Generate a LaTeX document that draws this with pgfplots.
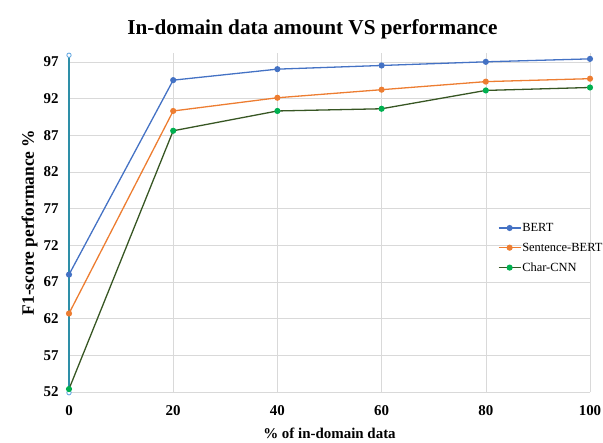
\documentclass[border=0pt]{standalone}
\usepackage{pgfplots}
\pgfplotsset{compat=1.18}
\usepackage{fontspec}
\setmainfont{Liberation Serif}
\definecolor{cbert}{HTML}{4472C4}
\definecolor{csbert}{HTML}{ED7D31}
\definecolor{ccnnline}{HTML}{375623}
\definecolor{ccnnmark}{HTML}{00B050}
\definecolor{cteal}{HTML}{2E8FA8}
\definecolor{cteal2}{HTML}{5BA3E0}
\definecolor{cgrid}{HTML}{D9D9D9}
\begin{document}
\begin{tikzpicture}
\begin{axis}[
  scale only axis,
  width=521bp, height=339bp,
  xmin=0, xmax=100, ymin=52, ymax=98.2,
  clip=false,
  xtick={0,20,40,60,80,100},
  ytick={52,57,62,67,72,77,82,87,92,97},
  grid=major,
  major grid style={cgrid, line width=0.6pt},
  axis line style={draw=none},
  major tick length=0pt,
  /pgf/number format/assume math mode=true,
  tick label style={font=\fontsize{15}{17}\selectfont\bfseries},
  xticklabel style={yshift=-10bp},
  yticklabel style={xshift=-7bp},
  title={\fontsize{21.3}{24}\selectfont\bfseries In-domain data amount VS performance},
  title style={yshift=4bp, xshift=-17bp},
  xlabel={\fontsize{15}{17}\selectfont\bfseries \% of in-domain data},
  xlabel style={yshift=-6bp},
  ylabel={\fontsize{17.5}{19}\selectfont\bfseries F1-score performance \%},
  ylabel style={yshift=-1bp},
  legend style={draw=none, fill=none, at={(0.823,0.425)}, anchor=west,
    inner sep=0pt, nodes={inner sep=1bp},
    font=\fontsize{12.5}{14}\selectfont, row sep=8bp},
  legend cell align=left,
  legend image code/.code={
    \draw[#1, mark repeat=2, mark phase=2] plot coordinates {(0bp,0bp) (11bp,0bp) (22bp,0bp)};},
]
\addplot[cteal, line width=1.1pt, mark=*, mark size=2.2pt, mark options={draw=cteal2, fill=white, line width=0.8pt}, forget plot]
  coordinates {(0,51.9) (0,97.9)};
\addplot[cbert, line width=1.3pt, mark=*, mark size=2.4pt, mark options={fill=cbert, draw=cbert}]
  coordinates {(0,68.0) (20,94.5) (40,96.0) (60,96.5) (80,97.0) (100,97.4)};
\addlegendentry{BERT}
\addplot[csbert, line width=1.3pt, mark=*, mark size=2.4pt, mark options={fill=csbert, draw=csbert}]
  coordinates {(0,62.7) (20,90.3) (40,92.1) (60,93.2) (80,94.3) (100,94.7)};
\addlegendentry{Sentence-BERT}
\addplot[ccnnline, line width=1.3pt, mark=*, mark size=2.4pt, mark options={fill=ccnnmark, draw=ccnnmark}]
  coordinates {(0,52.4) (20,87.6) (40,90.3) (60,90.6) (80,93.1) (100,93.5)};
\addlegendentry{Char-CNN}
\end{axis}
\pgfresetboundingbox
\useasboundingbox ([shift={(-69bp,-51bp)}]current axis.south west) rectangle ([shift={(13bp,53bp)}]current axis.north east);
\end{tikzpicture}
\end{document}
